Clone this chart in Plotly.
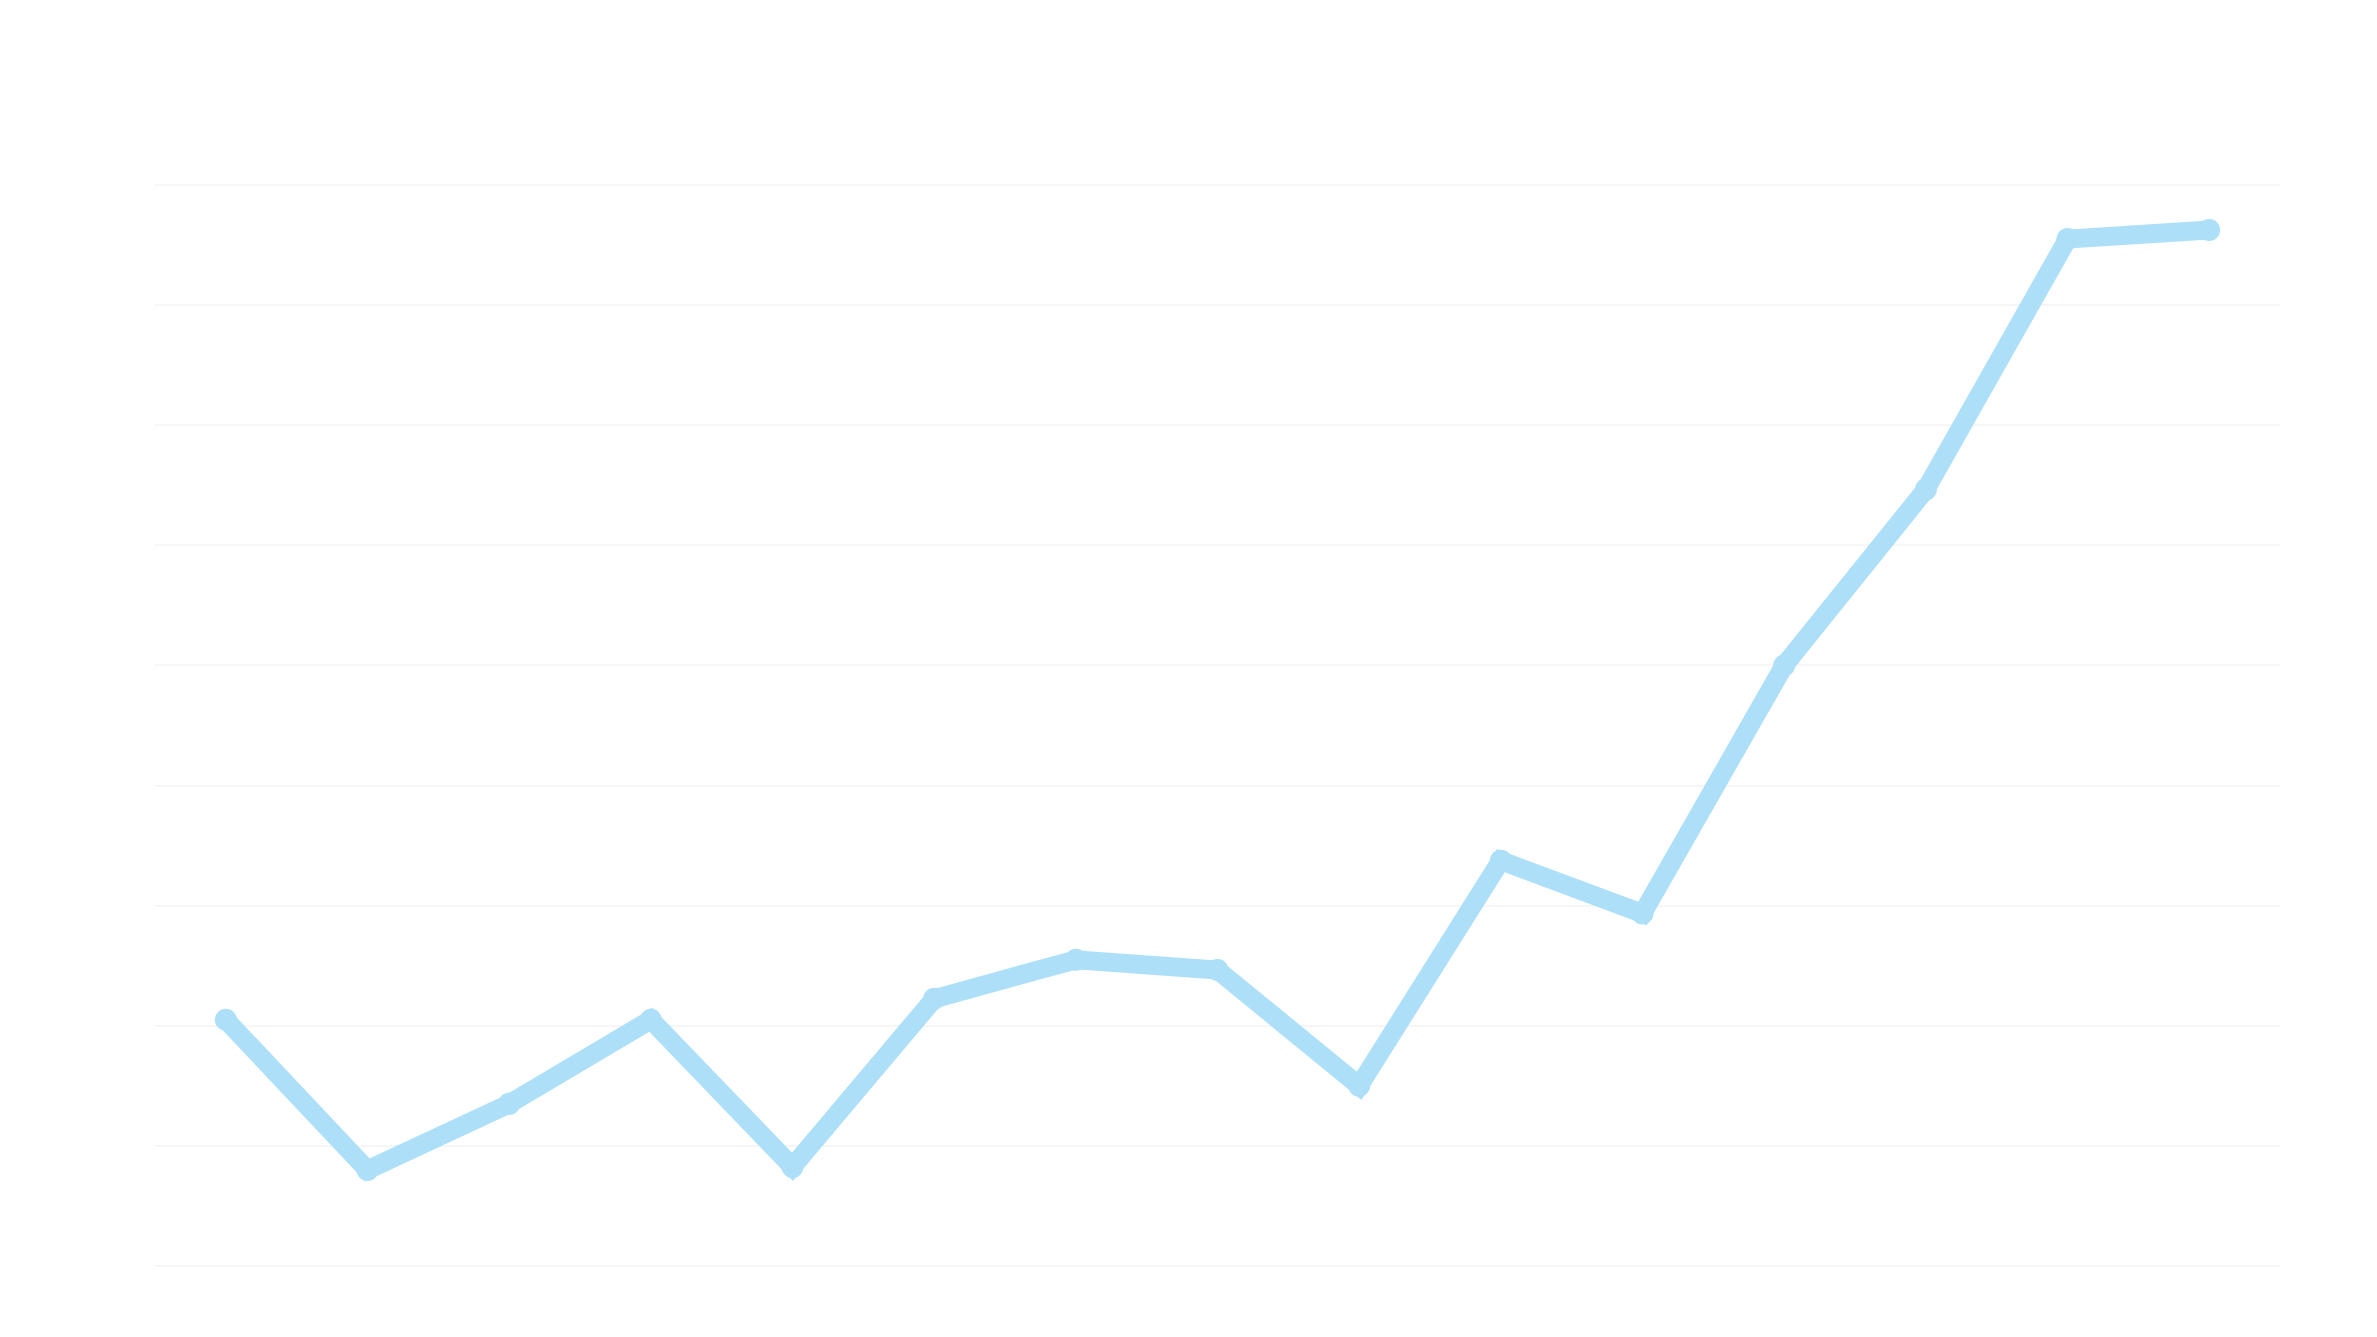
import plotly.graph_objects as go

# Κέρδη ανά έτος (σε εκατ. ευρώ)
years = ["2011", "2012", "2013", "2014", "2015", "2016", "2017", "2018",
         "2019", "2020", "2021", "2022", "2023", "2024", "2025"]
profits = [4.1, 1.6, 2.7, 4.1, 1.65, 4.45, 5.1, 4.93, 3.0, 6.75, 5.87, 10.0, 12.93, 17.1, 17.25]

title_text = "Κέρδη 2011 - 2025<br>(σε εκατ. ευρώ)"

fig = go.Figure()
fig.add_trace(go.Scatter(
    x=years,
    y=profits,
    mode="lines+markers",
    line=dict(color="#ade0f8", width=19),
    marker=dict(color="#ade0f8", size=22),
    hoverinfo="x+y",
))

fig.update_layout(
    width=2377,
    height=1337,
    paper_bgcolor="white",
    plot_bgcolor="white",
    showlegend=False,
    margin=dict(l=147, r=105, t=159, b=79),
    font=dict(family="Open Sans", color="white", size=37, weight="bold"),
    title=dict(
        text=title_text,
        x=157 / 2377,
        xanchor="left",
        xref="container",
        y=0.954,
        yanchor="middle",
        font=dict(size=39, color="white", weight="bold"),
    ),
    xaxis=dict(
        type="category",
        range=[-0.5, 14.5],
        showgrid=True,
        gridcolor="white",
        gridwidth=4,
        tickson="boundaries",
        ticks="",
        ticklabelstandoff=0,
        showline=False,
        zeroline=False,
        automargin=False,
    ),
    yaxis=dict(
        range=[0, 18.3],
        dtick=2,
        showgrid=True,
        gridcolor="#f6f6f6",
        gridwidth=2,
        zeroline=True,
        zerolinecolor="#f6f6f6",
        zerolinewidth=2,
        ticks="",
        ticklabelstandoff=34,
        showline=False,
        automargin=False,
    ),
)

fig.write_html("out.html")
